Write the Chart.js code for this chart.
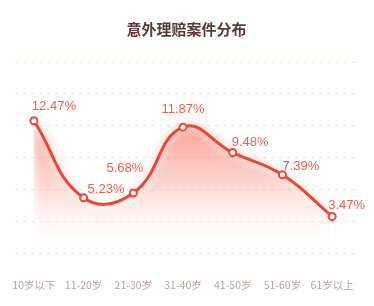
<!DOCTYPE html>
<html><head><meta charset="utf-8">
<script src="https://cdn.jsdelivr.net/npm/chart.js@4/dist/chart.umd.min.js"></script>
<style>html,body{margin:0;padding:0;background:#fff;}#wrap{width:374px;height:306px;position:relative;}</style>
</head><body><div id="wrap"><canvas id="c" width="374" height="306"></canvas></div>
<script>
const categories = ['10岁以下','11-20岁','21-30岁','31-40岁','41-50岁','51-60岁','61岁以上'];
const values = [12.47, 5.23, 5.68, 11.87, 9.48, 7.39, 3.47];
const valueLabels = ['12.47%','5.23%','5.68%','11.87%','9.48%','7.39%','3.47%'];
const titleText = '意外理赔案件分布';

// label placement relative to each point: [dx, dy, align]
const labelPlace = [[20,-14,'center'],[4,-8,'left'],[10,-25,'right'],[0,-18,'center'],[-1,-10,'left'],[0,-8,'left'],[-4,-11,'left']];

const labelPlugin = {
  id: 'valLabels',
  beforeDatasetsDraw(chart) {
    chart.ctx.filter = 'blur(6px)';
  },
  beforeDatasetDraw(chart) {
    chart.ctx.filter = 'none';
  },
  afterDatasetsDraw(chart) {
    const ctx = chart.ctx;
    ctx.filter = 'none';
    const meta = chart.getDatasetMeta(0);
    ctx.save();
    ctx.font = '13px "Liberation Sans", Arial, sans-serif';
    ctx.fillStyle = '#EE5E4B';
    ctx.textBaseline = 'middle';
    meta.data.forEach((pt, i) => {
      const p = labelPlace[i];
      ctx.textAlign = p[2];
      ctx.fillText(valueLabels[i], pt.x + p[0], pt.y + p[1]);
    });
    ctx.restore();
  }
};

new Chart(document.getElementById('c'), {
  type: 'line',
  data: {
    datasets: [{
      data: values.map((v, i) => ({x: i, y: v})),
      borderColor: '#F0462F',
      borderWidth: 3,
      tension: 0.45,
      pointRadius: 3.5,
      pointHoverRadius: 3.5,
      pointBackgroundColor: '#ffffff',
      pointBorderColor: '#F0462F',
      pointBorderWidth: 2,
      fill: 'origin',
      backgroundColor(ctx) {
        const ca = ctx.chart.chartArea;
        if (!ca) return 'rgba(240,70,47,0.2)';
        const g = ctx.chart.ctx.createLinearGradient(0, ca.top + 60, 0, ca.bottom);
        g.addColorStop(0, 'rgba(244,90,70,0.6)');
        g.addColorStop(0.5, 'rgba(248,120,100,0.28)');
        g.addColorStop(1, 'rgba(255,255,255,0)');
        return g;
      }
    }]
  },
  options: {
    responsive: false,
    animation: false,
    layout: {padding: {left: 15, right: 16, top: 0, bottom: -2}},
    plugins: {
      legend: {display: false},
      tooltip: {enabled: false},
      title: {
        display: true, text: titleText,
        color: '#5A3A38',
        font: {family: '"Noto Sans CJK SC", sans-serif', size: 15, weight: 'bold'},
        padding: {top: 20, bottom: 24}
      }
    },
    scales: {
      x: {
        type: 'linear', min: -0.38, max: 6.52,
        grid: {display: false}, border: {display: false},
        afterFit(scale) { scale.paddingLeft = 0; scale.paddingRight = 0; },
        ticks: {
          stepSize: 1, includeBounds: false, autoSkip: false, maxRotation: 0,
          color: '#B5A49C',
          font: {family: '"Noto Sans CJK SC", sans-serif', size: 10.5},
          padding: 17,
          callback: (v) => Number.isInteger(v) ? categories[v] : ''
        }
      },
      y: {
        min: 0, max: 18,
        grid: {color: '#F6E7CC', lineWidth: 1, drawTicks: false},
        border: {display: false, dash: [4, 4]},
        ticks: {display: false, stepSize: 3}
      }
    }
  },
  plugins: [labelPlugin]
});
</script></body></html>
